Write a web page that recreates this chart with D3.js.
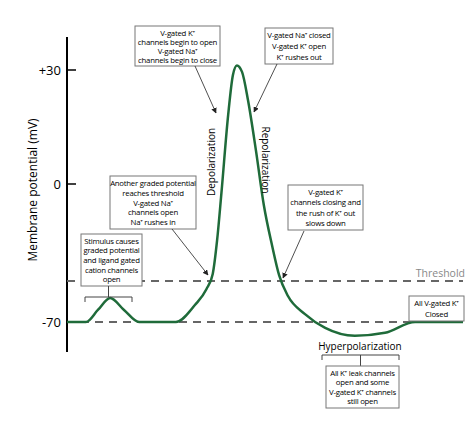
<!DOCTYPE html>
<html><head><meta charset="utf-8">
<script src="https://cdn.jsdelivr.net/npm/d3@7"></script>
<style>body{margin:0;background:#fff}text{font-family:"Open Sans","Liberation Sans",sans-serif}</style>
</head><body>
<script>
// time (arbitrary units 0-100) and membrane potential (mV)
var times  = [0, 4.8, 7.8, 10.9, 14.4, 18.2, 27.5, 32.3, 35.2, 36.8, 37.9, 39.0, 40.7, 41.9, 42.9, 44.2, 45.7, 47.7, 49.7, 51.8, 53.6, 55.8, 60.1, 65.2, 72.7, 80.3, 87.9, 100];
var values = [-70, -70, -65.6, -61.2, -65.6, -70, -70, -63.8, -58.0, -51.0, -32.0, -5.0, 18.2, 28.7, 31.6, 29.5, 22.1, 8.9, -11.9, -35.0, -52.0, -60.5, -67.1, -72.2, -75.1, -74, -70, -70];
var tickValues = [-70, 0, 30];
var tickLabels = ["-70", "0", "+30"];
var threshold = -55;
var resting = -70;

var green = "#1f6b3a";
var svg = d3.select("body").append("svg").attr("width", 474).attr("height", 433);

var x = d3.scaleLinear().domain([0, 100]).range([67, 463]);
// schematic, non-linear voltage axis
var y = d3.scaleLinear().domain([-80, -70, -55, 0, 30, 45]).range([349, 322, 281, 184, 70, 27]);

// axis
svg.append("line").attr("x1", 67).attr("x2", 67).attr("y1", 37).attr("y2", 352)
	.attr("stroke", "black").attr("stroke-width", 2);
svg.selectAll(".tk").data(tickValues).enter().append("line")
	.attr("x1", 67).attr("x2", 76).attr("y1", d => y(d)).attr("y2", d => y(d))
	.attr("stroke", "black").attr("stroke-width", 1.5);
svg.selectAll(".tl").data(tickValues).enter().append("text")
	.attr("x", 61).attr("y", d => y(d) + 5).attr("text-anchor", "end")
	.attr("font-size", 13).text((d, i) => tickLabels[i]);
svg.append("text").attr("transform", "translate(37,190) rotate(-90)")
	.attr("text-anchor", "middle").attr("font-size", 12).text("Membrane potential (mV)");

// dashed reference lines
[threshold, resting].forEach(function(v) {
	svg.append("line").attr("x1", x(0)).attr("x2", x(100)).attr("y1", y(v)).attr("y2", y(v))
		.attr("stroke", "#666").attr("stroke-width", 2).attr("stroke-dasharray", "8,6");
});
svg.append("text").attr("x", 465).attr("y", y(threshold) - 4).attr("text-anchor", "end")
	.attr("font-size", 10.5).attr("fill", "#888").text("Threshold");

// curve
var pts = times.map((t, i) => [t, values[i]]);
svg.append("path").datum(pts)
	.attr("d", d3.line().x(d => x(d[0])).y(d => y(d[1])).curve(d3.curveMonotoneX))
	.attr("fill", "none").attr("stroke", green).attr("stroke-width", 2.5);

// rotated phase labels
svg.append("text").attr("transform", "translate(215,162) rotate(-90)").attr("text-anchor", "middle")
	.attr("font-size", 10).text("Depolarization");
svg.append("text").attr("transform", "translate(262,160) rotate(90)").attr("text-anchor", "middle")
	.attr("font-size", 10).text("Repolarization");

// arrow marker
svg.append("defs").append("marker").attr("id", "ah").attr("viewBox", "0 0 10 10")
	.attr("refX", 9).attr("refY", 5).attr("markerWidth", 7).attr("markerHeight", 7).attr("orient", "auto")
	.append("path").attr("d", "M0,0L10,5L0,10z").attr("fill", "#222");

function box(x0, y0, w, h, lines) {
	svg.append("rect").attr("x", x0).attr("y", y0).attr("width", w).attr("height", h)
		.attr("fill", "white").attr("stroke", "#777").attr("stroke-width", 1);
	var lh = (h - 4) / lines.length;
	lines.forEach(function(l, i) {
		svg.append("text").attr("x", x0 + w / 2).attr("y", y0 + 2 + lh * (i + 0.5) + 3)
			.attr("text-anchor", "middle").attr("font-size", 7.8).attr("letter-spacing", -0.25).text(l);
	});
}
function arrow(x1, y1, x2, y2) {
	svg.append("line").attr("x1", x1).attr("y1", y1).attr("x2", x2).attr("y2", y2)
		.attr("stroke", "#222").attr("stroke-width", 0.8).attr("marker-end", "url(#ah)");
}
function bracket(x1, x2, yb, stemTo) {
	var xm = (x1 + x2) / 2;
	svg.append("path").attr("d", "M" + x1 + "," + (yb + 5) + "V" + yb + "H" + x2 + "V" + (yb + 5))
		.attr("fill", "none").attr("stroke", "#444");
	svg.append("line").attr("x1", xm).attr("x2", xm).attr("y1", yb).attr("y2", stemTo).attr("stroke", "#444");
}

box(135, 26, 85, 40, ["V-gated K\u207A", "channels begin to open", "V-gated Na\u207A", "channels begin to close"]);
arrow(195, 66, 216, 113);
box(265, 28, 68, 36, ["V-gated Na\u207A closed", "V-gated K\u207A open", "K\u207A rushes out"]);
arrow(277, 64, 254, 112);
box(110, 176, 86, 53, ["Another graded potential", "reaches threshold", "V-gated Na\u207A", "channels open", "Na\u207A rushes in"]);
arrow(172, 229, 208, 275);
box(288, 185, 75, 45, ["V-gated K\u207A", "channels closing and", "the rush of K\u207A out", "slows down"]);
arrow(304, 231, 283, 278);
box(81, 234, 61, 52, ["Stimulus causes", "graded potential", "and ligand gated", "cation channels", "open"]);
bracket(85, 132, 297, 286);
box(409, 296, 55, 25, ["All V-gated  K\u207A", "Closed"]);
svg.append("text").attr("x", 360).attr("y", 350).attr("text-anchor", "middle").attr("font-size", 10).text("Hyperpolarization");
bracket(322, 399, 355, 366);
box(326, 366, 73, 42, ["All K\u207A leak channels", "open and some", "V-gated K\u207A channels", "still open"]);
</script>
</body></html>
